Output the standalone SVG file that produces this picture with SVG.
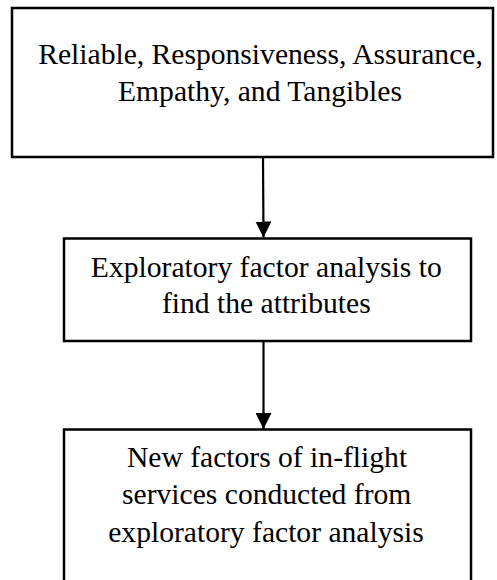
<svg xmlns="http://www.w3.org/2000/svg" width="497" height="580" viewBox="0 0 497 580">
  <style>
    .box { fill: #ffffff; stroke: #000000; stroke-width: 2.5; }
    .lbl { font-family: "Liberation Serif", "Times New Roman", serif; font-size: 29.6px; fill: #000000; text-anchor: middle; }
    .conn { stroke: #000000; stroke-width: 2.2; fill: none; marker-end: url(#arrow); }
  </style>
  <defs>
    <marker id="arrow" markerUnits="userSpaceOnUse" markerWidth="16" markerHeight="16" refX="16" refY="8" orient="auto">
      <path d="M0,0 L16,8 L0,16 Z" fill="#000000"/>
    </marker>
  </defs>
  <rect x="0" y="0" width="497" height="580" fill="#ffffff"/>
  <g id="connectors">
    <line class="conn" x1="263" y1="158" x2="263.5" y2="237.5"/>
    <line class="conn" x1="263.5" y1="342" x2="263.5" y2="429"/>
  </g>
  <g id="node-dimensions">
    <rect class="box" x="12" y="8" width="481" height="149"/>
    <text class="lbl" x="260.5" y="64">Reliable, Responsiveness, Assurance,</text>
    <text class="lbl" x="260" y="101">Empathy, and Tangibles</text>
  </g>
  <g id="node-efa">
    <rect class="box" x="64" y="238.5" width="407" height="102.5"/>
    <text class="lbl" x="266.3" y="276.7">Exploratory factor analysis to</text>
    <text class="lbl" x="266.3" y="313.3">find the attributes</text>
  </g>
  <g id="node-new-factors">
    <rect class="box" x="64" y="429.5" width="407" height="200"/>
    <text class="lbl" x="267" y="466.7">New factors of in-flight</text>
    <text class="lbl" x="266.7" y="504">services conducted from</text>
    <text class="lbl" x="266" y="541.7">exploratory factor analysis</text>
  </g>
</svg>
